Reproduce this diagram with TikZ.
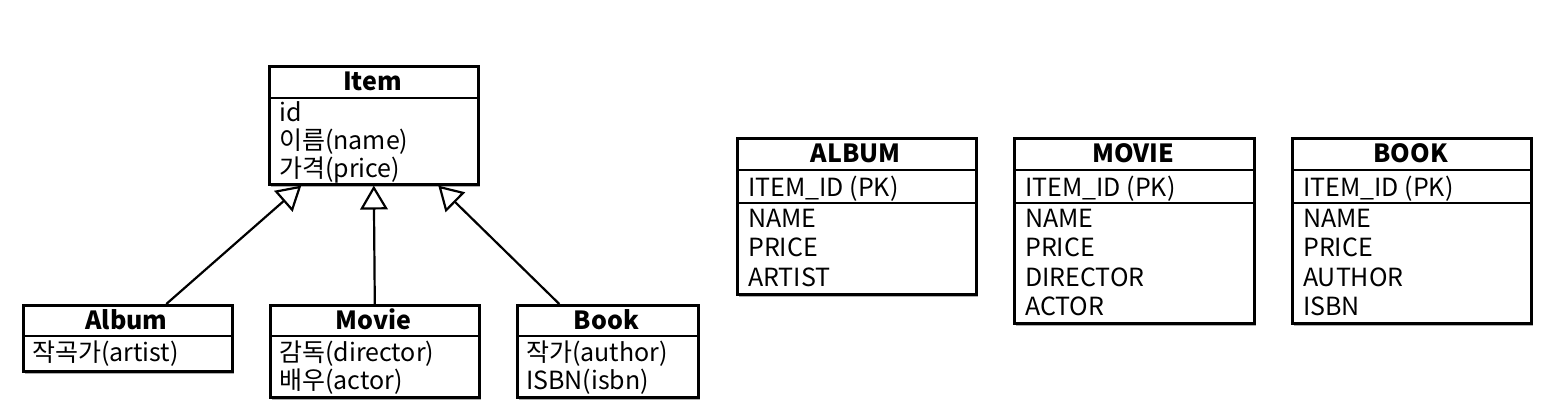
\documentclass[tikz,border=0pt]{standalone}
\usepackage{fontspec}
\setmainfont{Noto Sans CJK KR}
\usetikzlibrary{arrows.meta,shadows}
\tikzset{
  inh/.style={line width=2.2pt, arrows={-Triangle[open, scale=2.6]}}}
\begin{document}
\begin{tikzpicture}[x=1pt,y=-1pt,
  box/.style={draw, line width=2.6pt, fill=white, anchor=north west, inner sep=0pt,
    drop shadow={shadow xshift=2pt, shadow yshift=-3pt, opacity=0.45, fill=black!70}},
  sep/.style={line width=2.4pt},
  ttl/.style={font=\fontsize{25}{27}\selectfont\bfseries, inner sep=0pt, anchor=base},
  attr/.style={font=\fontsize{25}{27}\selectfont, anchor=base west, inner sep=0pt}]
\useasboundingbox (0,0) rectangle (1556,410);
% ---- class Item
\node[box, minimum width=209pt, minimum height=118pt] (item) at (268,65) {};
\draw[sep] (268,98) -- (477,98);
\node[ttl] (itemT) at (372.5,90) {Item};
\node[attr] (itemA1) at (279,121) {id};
\node[attr] (itemA2) at (279,149) {이름(name)};
\node[attr] (itemA3) at (279,177) {가격(price)};
% ---- class Album
\node[box, minimum width=209pt, minimum height=66pt] (album) at (22,304) {};
\draw[sep] (22,336) -- (231,336);
\node[ttl] (albumT) at (126.5,329) {Album};
\node[attr] (albumA1) at (32,361) {작곡가(artist)};
% ---- class Movie
\node[box, minimum width=209pt, minimum height=92pt] (movie) at (269,304) {};
\draw[sep] (269,336) -- (478,336);
\node[ttl] (movieT) at (373.5,329) {Movie};
\node[attr] (movieA1) at (279,361) {감독(director)};
\node[attr] (movieA2) at (279,389) {배우(actor)};
% ---- class Book
\node[box, minimum width=181pt, minimum height=92pt] (book) at (516,304) {};
\draw[sep] (516,336) -- (697,336);
\node[ttl] (bookT) at (606.5,329) {Book};
\node[attr] (bookA1) at (526,361) {작가(author)};
\node[attr] (bookA2) at (526,389) {ISBN(isbn)};
% ---- inheritance
\draw[inh] ([xshift=38.5pt]album.north) -- ([xshift=-72.5pt]item.south);
\draw[inh] (movie.north) -- (item.south);
\draw[inh] ([xshift=-48.5pt]book.north) -- ([xshift=64.5pt]item.south);
% ---- table ALBUM
\node[box, minimum width=239pt, minimum height=156pt] (tAlbum) at (736,137) {};
\draw[sep] (736,170) -- (975,170);
\draw[sep] (736,203) -- (975,203);
\node[ttl] (tAlbumT) at (855.5,162) {ALBUM};
\node[attr] (tAlbumK) at (748,196) {ITEM\_ID (PK)};
\node[attr] (tAlbumA1) at (748,227) {NAME};
\node[attr] (tAlbumA2) at (748,256) {PRICE};
\node[attr] (tAlbumA3) at (748,286) {ARTIST};
% ---- table MOVIE
\node[box, minimum width=240pt, minimum height=185pt] (tMovie) at (1013,137) {};
\draw[sep] (1013,170) -- (1253,170);
\draw[sep] (1013,203) -- (1253,203);
\node[ttl] (tMovieT) at (1133,162) {MOVIE};
\node[attr] (tMovieK) at (1025,196) {ITEM\_ID (PK)};
\node[attr] (tMovieA1) at (1025,227) {NAME};
\node[attr] (tMovieA2) at (1025,256) {PRICE};
\node[attr] (tMovieA3) at (1025,286) {DIRECTOR};
\node[attr] (tMovieA4) at (1025,315) {ACTOR};
% ---- table BOOK
\node[box, minimum width=239pt, minimum height=185pt] (tBook) at (1291,137) {};
\draw[sep] (1291,170) -- (1530,170);
\draw[sep] (1291,203) -- (1530,203);
\node[ttl] (tBookT) at (1410.5,162) {BOOK};
\node[attr] (tBookK) at (1303,196) {ITEM\_ID (PK)};
\node[attr] (tBookA1) at (1303,227) {NAME};
\node[attr] (tBookA2) at (1303,256) {PRICE};
\node[attr] (tBookA3) at (1303,286) {AUTHOR};
\node[attr] (tBookA4) at (1303,315) {ISBN};
\end{tikzpicture}
\end{document}
